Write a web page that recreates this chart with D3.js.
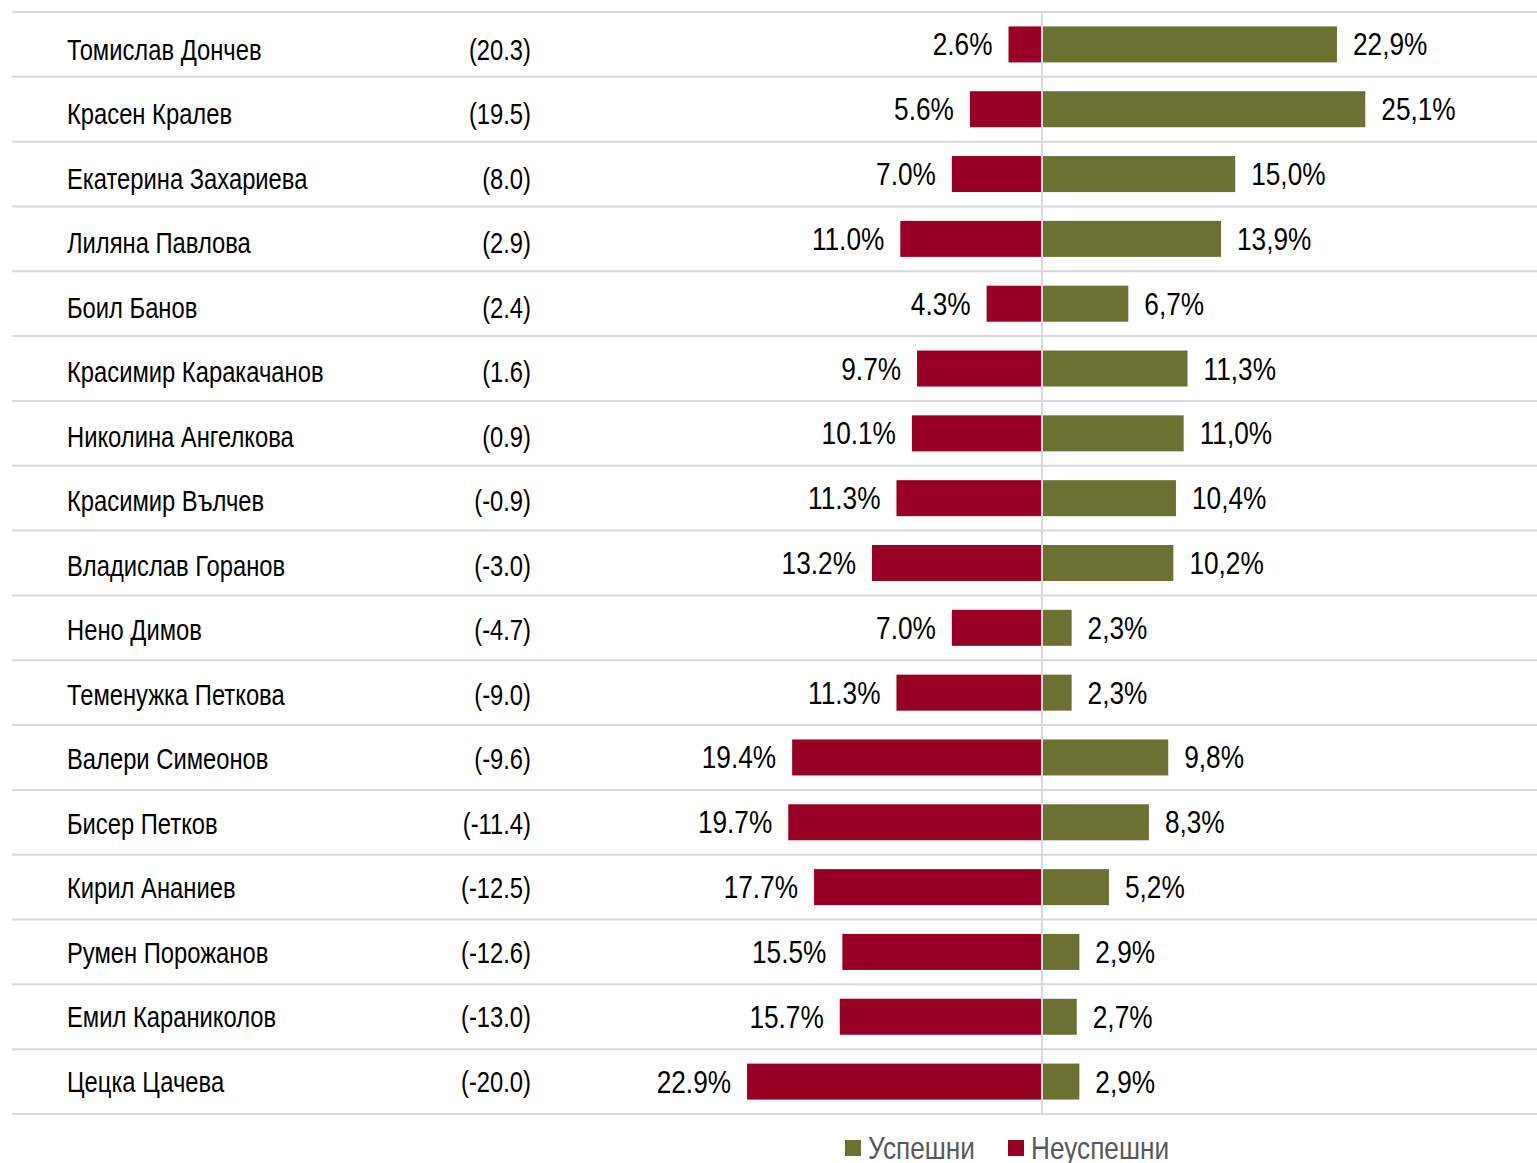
<!DOCTYPE html>
<html><head><meta charset="utf-8">
<script src="https://cdn.jsdelivr.net/npm/d3@7"></script>
<style>
body{margin:0;background:#fff;}
svg text{font-family:"Liberation Sans Narrow","Arial Narrow","Liberation Sans",sans-serif;}
</style></head>
<body><svg id="c" width="1537" height="1163"></svg>
<script>
const names = ["Томислав Дончев","Красен Кралев","Екатерина Захариева","Лиляна Павлова","Боил Банов","Красимир Каракачанов","Николина Ангелкова","Красимир Вълчев","Владислав Горанов","Нено Димов","Теменужка Петкова","Валери Симеонов","Бисер Петков","Кирил Ананиев","Румен Порожанов","Емил Караниколов","Цецка Цачева"];
const netLabels = ["(20.3)","(19.5)","(8.0)","(2.9)","(2.4)","(1.6)","(0.9)","(-0.9)","(-3.0)","(-4.7)","(-9.0)","(-9.6)","(-11.4)","(-12.5)","(-12.6)","(-13.0)","(-20.0)"];
const successful = [22.9,25.1,15.0,13.9,6.7,11.3,11.0,10.4,10.2,2.3,2.3,9.8,8.3,5.2,2.9,2.7,2.9];
const unsuccessful = [2.6,5.6,7.0,11.0,4.3,9.7,10.1,11.3,13.2,7.0,11.3,19.4,19.7,17.7,15.5,15.7,22.9];
const legendLabels = ["Успешни","Неуспешни"];
const colors = {good:"#6b7132", bad:"#990026"};

const svg = d3.select("#c");
const x = d3.scaleLinear().domain([-25,25]).range([1042-322,1042+322]);
const y = d3.scaleBand().domain(d3.range(names.length)).range([12,1114]).padding(0);
// table column (names / net values) rows, slightly tighter than the bar rows
const yt = d3.scaleLinear().domain([0,names.length-1]).range([59.5,1091.5]);
const bh = 36;
const SX = 0.82;
const tr = (px,py) => `translate(${px},${py}) scale(${SX},1)`;

const lines = d3.range(names.length+1).map(i => i===names.length ? 1114 : y(i));
svg.selectAll("line.sep").data(lines).enter().append("line")
  .attr("x1",12).attr("x2",1537).attr("y1",d=>d).attr("y2",d=>d)
  .attr("stroke","#d9d9d9").attr("stroke-width",2);

svg.selectAll("rect.bad").data(unsuccessful).enter().append("rect")
  .attr("x",d=>x(-d)).attr("width",d=>x(0)-x(-d))
  .attr("y",(d,i)=>y(i)+y.bandwidth()/2-bh/2).attr("height",bh)
  .attr("fill",colors.bad);
svg.selectAll("rect.good").data(successful).enter().append("rect")
  .attr("x",x(0)).attr("width",d=>x(d)-x(0))
  .attr("y",(d,i)=>y(i)+y.bandwidth()/2-bh/2).attr("height",bh)
  .attr("fill",colors.good);

svg.append("line").attr("x1",x(0)).attr("x2",x(0)).attr("y1",12).attr("y2",1114)
  .attr("stroke","#d9d9d9").attr("stroke-width",2);

const base = i => y(i)+y.bandwidth()/2+11;

svg.selectAll("text.name").data(names).enter().append("text")
  .attr("transform",(d,i)=>tr(67,yt(i))).attr("font-size",29).attr("fill","#000").text(d=>d);
svg.selectAll("text.net").data(netLabels).enter().append("text")
  .attr("transform",(d,i)=>tr(531,yt(i))).attr("text-anchor","end").attr("font-size",29).attr("fill","#000").text(d=>d);

svg.selectAll("text.badl").data(unsuccessful).enter().append("text")
  .attr("transform",(d,i)=>tr(x(-d)-16,base(i))).attr("text-anchor","end")
  .attr("font-size",32).attr("fill","#000").text(d=>d.toFixed(1)+"%");
svg.selectAll("text.goodl").data(successful).enter().append("text")
  .attr("transform",(d,i)=>tr(x(d)+16,base(i))).attr("text-anchor","start")
  .attr("font-size",32).attr("fill","#000").text(d=>d.toFixed(1).replace(".",",")+"%");

const leg = [{t:legendLabels[0],c:colors.good,x:845},{t:legendLabels[1],c:colors.bad,x:1008}];
const lg = svg.selectAll("g.leg").data(leg).enter().append("g");
lg.append("rect").attr("x",d=>d.x).attr("y",1140).attr("width",16).attr("height",16).attr("fill",d=>d.c);
lg.append("text").attr("transform",d=>tr(d.x+23,1159)).attr("font-size",32).attr("fill","#595959").text(d=>d.t);
</script></body></html>
